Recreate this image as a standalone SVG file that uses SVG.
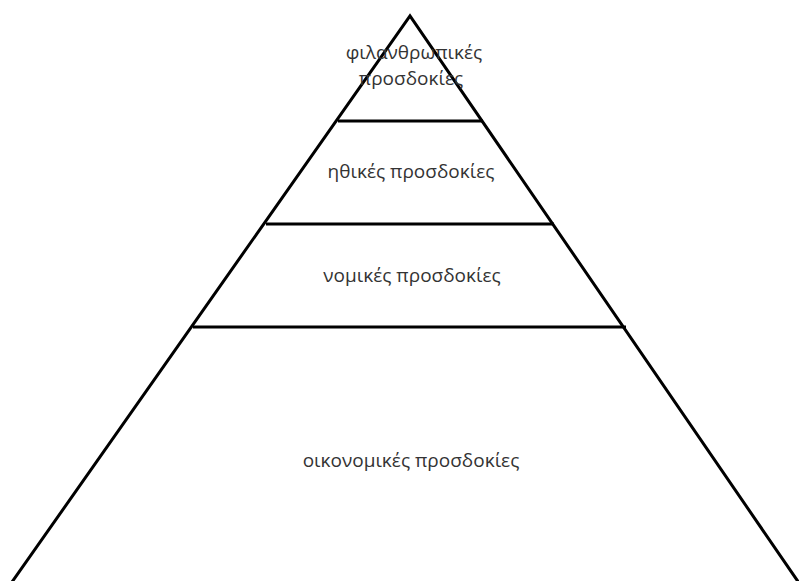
<svg xmlns="http://www.w3.org/2000/svg" width="799" height="581" viewBox="0 0 799 581">
<style>
.ln{stroke:#000;stroke-width:3;fill:none;stroke-linecap:butt}
.t{font-family:"Open Sans","Noto Sans","DejaVu Sans",sans-serif;font-size:19px;fill:#333;text-anchor:middle}
</style>
<rect width="799" height="581" fill="#fff"/>
<g id="connectors">
<path class="ln" d="M12,582 L410,16 L799,583" stroke-linejoin="miter"/>
<line class="ln" x1="338" y1="121" x2="483" y2="121"/>
<line class="ln" x1="266" y1="224" x2="554" y2="224"/>
<line class="ln" x1="193" y1="327" x2="626" y2="327"/>
</g>
<g id="philanthropic">
<text class="t" x="414" y="59">φιλανθρωπικές</text>
<text class="t" x="411" y="85">προσδοκίες</text>
</g>
<g id="ethical">
<text class="t" x="411" y="178">ηθικές προσδοκίες</text>
</g>
<g id="legal">
<text class="t" x="412" y="282">νομικές προσδοκίες</text>
</g>
<g id="economic">
<text class="t" x="411" y="467">οικονομικές προσδοκίες</text>
</g>
</svg>
